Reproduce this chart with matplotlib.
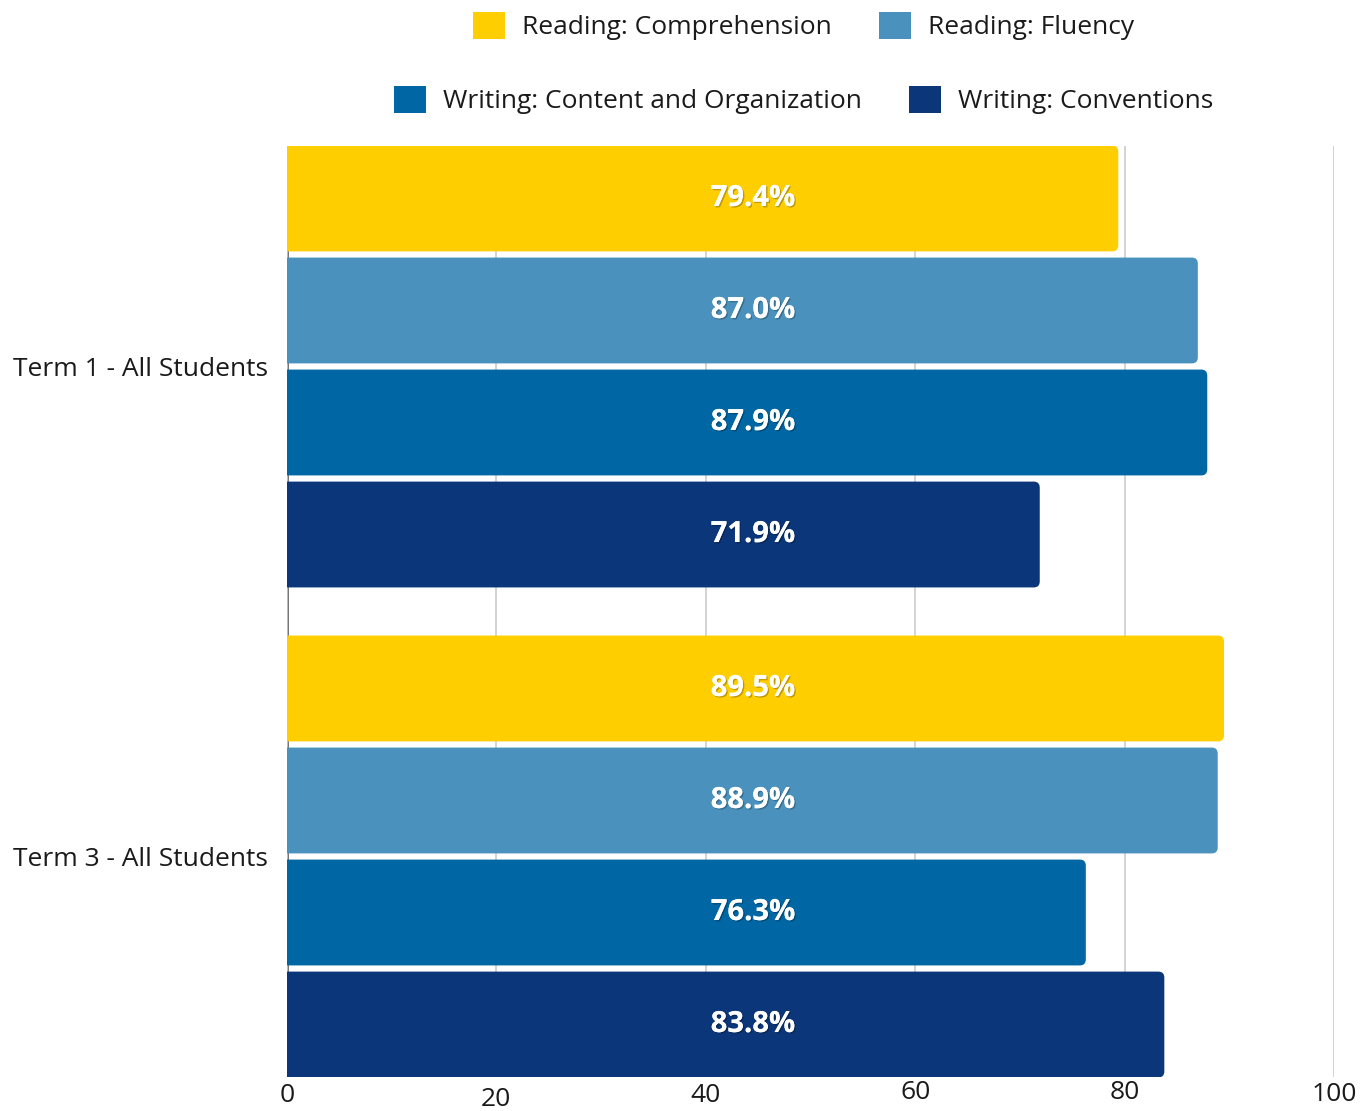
import numpy as np
import matplotlib
matplotlib.use('Agg')
import matplotlib.pyplot as plt
from matplotlib.patches import FancyBboxPatch
import matplotlib.patheffects as pe
from matplotlib.transforms import ScaledTranslation

plt.rcParams['font.family'] = ['Open Sans', 'DejaVu Sans']

#%% datos
grupos = ['Term 1 - All Students', 'Term 3 - All Students']
series = ['Reading: Comprehension', 'Reading: Fluency',
          'Writing: Content and Organization', 'Writing: Conventions']
valores = [
    [79.4, 89.5],   # Reading: Comprehension
    [87.0, 88.9],   # Reading: Fluency
    [87.9, 76.3],   # Writing: Content and Organization
    [71.9, 83.8],   # Writing: Conventions
]
colores = ['#FFCE00', '#4A92BD', '#0066A4', '#0B3679']
xticks = [0, 20, 40, 60, 80, 100]

#%% figura
fig = plt.figure(figsize=(13.62, 11.11), dpi=100)
ax = fig.add_axes([0.2107, 0.0306, 0.7687, 0.838])

y = np.arange(len(grupos))
slot = 0.2286
alto = 0.216
offsets = (np.arange(len(series)) - 1.5) * slot

ax.set_xlim(0, 100)
ax.set_ylim(1.45, -0.45)

# escala px -> datos para redondear esquinas
fig.canvas.draw()
bb = ax.get_window_extent()
px_x = 100 / bb.width
px_y = 1.9 / bb.height
aspecto = px_y / px_x

handles = []
for i, (serie, col) in enumerate(zip(series, colores)):
    for j, v in enumerate(valores[i]):
        yc = y[j] + offsets[i]
        # arranca en -2 para que el redondeo izquierdo quede recortado
        caja = FancyBboxPatch((-2, yc - alto / 2), v + 2, alto,
                              boxstyle='round,pad=0,rounding_size=%f' % (6 * px_x),
                              mutation_aspect=aspecto,
                              facecolor=col, edgecolor='none', zorder=3)
        ax.add_patch(caja)
        t = ax.text(44.5, yc, '{:.1f}%'.format(v), ha='center', va='center',
                    color='white', fontsize=21, fontweight='bold', zorder=4)
        t.set_path_effects([pe.withSimplePatchShadow(offset=(1, -1), alpha=0.25,
                                                     shadow_rgbFace='black'),
                            pe.Normal()])
    handles.append(plt.Rectangle((0, 0), 1, 1, facecolor=col, edgecolor='none'))

ax.set_yticks(y)
ax.set_yticklabels(grupos, fontsize=19, color='#1a1a1a')
ax.set_xticks(xticks)
ax.set_xticklabels([str(x) for x in xticks], fontsize=19, color='#1a1a1a')
ax.tick_params(axis='y', length=0, pad=14)
ax.tick_params(axis='x', length=0, pad=4)

# etiquetas del eje x un poco desparejas
desfase = [0, -4, 0, 3, 3, 1]
for lab, d in zip(ax.get_xticklabels(), desfase):
    lab.set_transform(lab.get_transform() + ScaledTranslation(0, d / 100, fig.dpi_scale_trans))

ax.grid(axis='x', color='#CCCCCC', linewidth=1.2, zorder=0)
ax.axvline(0, color='#666666', linewidth=2, zorder=1)
for s in ['top', 'right', 'bottom', 'left']:
    ax.spines[s].set_visible(False)

# leyenda en dos filas
kw = dict(frameon=False, fontsize=19, handlelength=1.21, handleheight=1.21,
          handletextpad=0.64, columnspacing=1.8, ncol=2, loc='center',
          borderaxespad=0, borderpad=0)
leg1 = fig.legend(handles[:2], series[:2], bbox_to_anchor=(0.590, 1 - 26 / 1111), **kw)
leg2 = fig.legend(handles[2:], series[2:], bbox_to_anchor=(0.590, 1 - 100 / 1111), **kw)
for leg in (leg1, leg2):
    for txt in leg.get_texts():
        txt.set_color('#1a1a1a')

plt.savefig('out.png', dpi=100)
